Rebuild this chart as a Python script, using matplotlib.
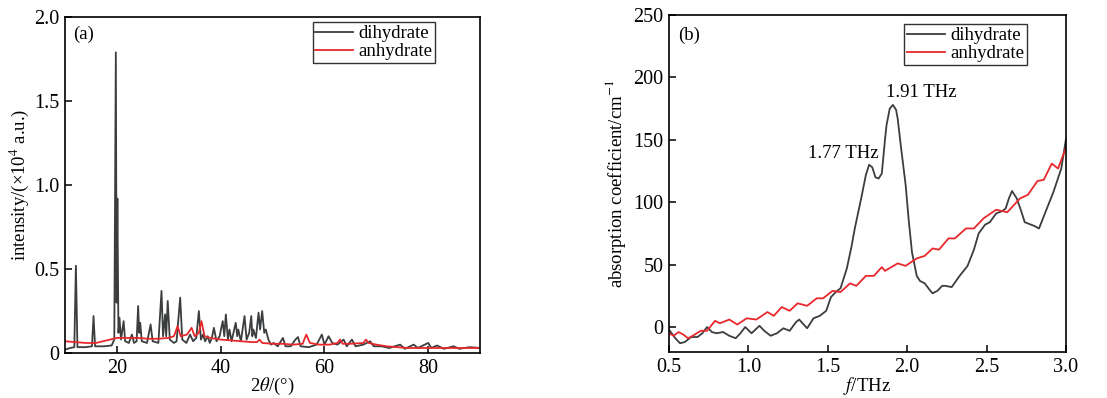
import matplotlib
matplotlib.use("Agg")
from matplotlib import pyplot as plt

plt.rcParams['font.family'] = ['Liberation Serif', 'DejaVu Serif']
plt.rcParams['mathtext.fontset'] = 'stix'

# (a) XRD, 2theta (deg) / intensity (x10^4 a.u.)
xrd_di_x = [10.0, 11.0, 11.8, 12.1, 12.4, 14.0, 15.2, 15.5, 15.8, 17.5, 19.0, 19.5,
            19.8, 19.95, 20.1, 20.3, 20.5, 20.8, 21.3, 21.6, 22.3, 22.9, 23.3, 23.8,
            24.1, 24.3, 24.5, 24.8, 25.8, 26.5, 26.9, 28.0, 28.6, 28.9, 29.3, 29.5,
            29.8, 30.2, 31.0, 31.5, 32.2, 32.6, 33.4, 34.1, 34.7, 35.3, 35.8, 36.2,
            36.6, 37.0, 37.5, 37.9, 38.3, 38.7, 39.2, 39.8, 40.4, 40.7, 41.0, 41.4,
            41.7, 42.1, 42.9, 43.2, 43.4, 43.9, 44.6, 45.0, 45.5, 45.9, 46.1, 46.3,
            46.8, 47.3, 47.6, 48.0, 48.4, 48.7, 49.2, 49.7, 50.2, 51.0, 52.0, 52.5,
            53.5, 54.4, 54.9, 55.4, 57.0, 58.5, 59.5, 60.0, 60.8, 61.5, 62.5, 63.7,
            64.3, 65.3, 66.0, 67.5, 68.8, 69.5, 71.0, 72.5, 74.6, 75.5, 77.2, 78.0,
            80.0, 80.6, 81.7, 83.0, 84.9, 86.0, 88.0, 90.0]
xrd_di_y = [0.02, 0.03, 0.035, 0.52, 0.035, 0.035, 0.04, 0.22, 0.04, 0.04, 0.045, 0.08,
            1.79, 0.30, 0.92, 0.12, 0.21, 0.08, 0.19, 0.07, 0.06, 0.11, 0.06, 0.07,
            0.28, 0.12, 0.18, 0.07, 0.06, 0.17, 0.07, 0.06, 0.37, 0.10, 0.23, 0.10,
            0.31, 0.08, 0.06, 0.07, 0.33, 0.08, 0.06, 0.11, 0.07, 0.09, 0.25, 0.08,
            0.11, 0.07, 0.10, 0.06, 0.09, 0.15, 0.07, 0.10, 0.19, 0.10, 0.23, 0.08,
            0.14, 0.07, 0.18, 0.10, 0.14, 0.07, 0.22, 0.08, 0.12, 0.22, 0.10, 0.14,
            0.09, 0.24, 0.14, 0.25, 0.12, 0.14, 0.08, 0.05, 0.06, 0.04, 0.09, 0.04,
            0.04, 0.08, 0.095, 0.04, 0.035, 0.05, 0.11, 0.05, 0.10, 0.06, 0.05, 0.08,
            0.04, 0.08, 0.04, 0.05, 0.07, 0.04, 0.04, 0.03, 0.05, 0.025, 0.05, 0.03,
            0.06, 0.03, 0.045, 0.025, 0.04, 0.025, 0.035, 0.03]

xrd_an_x = [10, 12, 14, 16, 18, 20, 22, 24, 26, 28, 30, 31.0, 31.7, 32.3, 33.5, 34.4,
            35.0, 35.8, 36.3, 36.9, 38, 40, 42, 44, 46, 47.0, 47.5, 48.0, 50, 52, 54,
            55.8, 56.5, 57.2, 59, 61, 62.5, 63.0, 63.5, 65, 67.5, 68.0, 68.5, 70, 72,
            74, 76, 78, 80, 84, 90]
xrd_an_y = [0.07, 0.065, 0.06, 0.06, 0.075, 0.09, 0.09, 0.09, 0.085, 0.085, 0.09, 0.10,
            0.16, 0.10, 0.11, 0.15, 0.10, 0.12, 0.19, 0.10, 0.09, 0.08, 0.075, 0.07,
            0.065, 0.065, 0.08, 0.06, 0.055, 0.055, 0.05, 0.055, 0.11, 0.06, 0.05,
            0.05, 0.06, 0.08, 0.055, 0.055, 0.06, 0.08, 0.06, 0.05, 0.04, 0.035, 0.03,
            0.03, 0.03, 0.03, 0.03]

# (b) THz absorption, f (THz) / coefficient (cm^-1)
thz_di_x = [0.50, 0.54, 0.57, 0.60, 0.64, 0.68, 0.71, 0.74, 0.77, 0.80, 0.84, 0.88,
            0.92, 0.95, 0.98, 1.02, 1.07, 1.10, 1.14, 1.18, 1.22, 1.26, 1.30, 1.32,
            1.37, 1.41, 1.45, 1.49, 1.52, 1.55, 1.58, 1.62, 1.65, 1.67, 1.71, 1.74,
            1.76, 1.78, 1.80, 1.82, 1.84, 1.86, 1.87, 1.89, 1.91, 1.93, 1.94, 1.96,
            1.99, 2.01, 2.03, 2.06, 2.08, 2.11, 2.14, 2.16, 2.19, 2.22, 2.24, 2.28,
            2.33, 2.38, 2.42, 2.45, 2.49, 2.52, 2.56, 2.60, 2.62, 2.64, 2.66, 2.69,
            2.72, 2.74, 2.78, 2.80, 2.83, 2.87, 2.92, 2.97, 3.00]
thz_di_y = [-2, -9, -13, -12, -8, -8, -5, 0, -4, -5, -4, -7,
            -9, -5, 0, -5, 1, -3, -7, -5, -1, -3, 4, 6,
            -1, 7, 9, 13, 24, 28, 31, 47, 65, 79, 103, 122,
            130, 128, 120, 119, 123, 150, 162, 175, 178, 174, 167, 145,
            114, 85, 60, 41, 37, 35, 30, 27, 29, 33, 33, 32,
            41, 49, 62, 75, 82, 84, 91, 93, 95, 103, 109, 103,
            92, 84, 82, 81, 79, 92, 108, 127, 151]

thz_an_x = [0.50, 0.53, 0.56, 0.59, 0.62, 0.65, 0.70, 0.74, 0.79, 0.82, 0.88, 0.93,
            0.99, 1.05, 1.12, 1.16, 1.21, 1.26, 1.31, 1.37, 1.43, 1.47, 1.53, 1.58,
            1.64, 1.68, 1.74, 1.79, 1.84, 1.86, 1.94, 1.99, 2.06, 2.11, 2.16, 2.20,
            2.26, 2.30, 2.37, 2.42, 2.48, 2.56, 2.63, 2.71, 2.76, 2.82, 2.86, 2.91,
            2.95, 3.00]
thz_an_y = [-5, -7, -4, -6, -9, -7, -3, -3, 5, 3, 6, 2,
            7, 6, 12, 9, 16, 13, 19, 17, 23, 23, 29, 28,
            35, 33, 41, 41, 48, 45, 51, 49, 55, 57, 63, 62,
            71, 71, 79, 79, 87, 94, 92, 103, 106, 117, 118, 131,
            127, 144]

dark = '#3b3d3f'
red = '#e8282c'

fig = plt.figure(figsize=(11.07, 3.98), dpi=100)
ax1 = fig.add_axes([0.0587, 0.113, 0.375, 0.844])
ax2 = fig.add_axes([0.6043, 0.1156, 0.3587, 0.8466])

ax1.plot(xrd_di_x, xrd_di_y, color=dark, lw=1.3, label='dihydrate')
ax1.plot(xrd_an_x, xrd_an_y, color=red, lw=1.3, label='anhydrate')
ax1.set_xlim(10, 90)
ax1.set_ylim(0, 2.0)
ax1.set_xticks([20, 40, 60, 80])
ax1.set_yticks([0, 0.5, 1.0, 1.5, 2.0])
ax1.set_yticklabels(['0', '0.5', '1.0', '1.5', '2.0'])
ax1.set_xlabel(r'2$\theta$/(°)', fontsize=13.5, labelpad=-1)
ax1.set_ylabel('intensity/(×10$^4$ a.u.)', fontsize=13.5, labelpad=2)
ax1.text(0.02, 0.975, '(a)', transform=ax1.transAxes, fontsize=13.5, va='top', ha='left')

ax2.plot(thz_di_x, thz_di_y, color=dark, lw=1.3, label='dihydrate')
ax2.plot(thz_an_x, thz_an_y, color=red, lw=1.3, label='anhydrate')
ax2.set_xlim(0.5, 3.0)
ax2.set_ylim(-20, 250)
ax2.set_xticks([0.5, 1.0, 1.5, 2.0, 2.5, 3.0])
ax2.set_yticks([0, 50, 100, 150, 200, 250])
ax2.set_xlabel(r'$f$/THz', fontsize=13.5, labelpad=-1)
ax2.set_ylabel('absorption coefficient/cm$^{-1}$', fontsize=13.5, labelpad=4)
ax2.text(0.023, 0.965, '(b)', transform=ax2.transAxes, fontsize=13.5, va='top', ha='left')
ax2.text(1.60, 139, '1.77 THz', fontsize=13.5, ha='center', va='center')
ax2.text(2.09, 188, '1.91 THz', fontsize=13.5, ha='center', va='center')

leg_anchor = {ax1: (0.892, 0.985), ax2: (0.902, 0.973)}
for ax in (ax1, ax2):
    ax.tick_params(direction='in', length=5, width=1.1, labelsize=14.5, pad=4,
                   top=False, right=False)
    for s in ax.spines.values():
        s.set_linewidth(1.2)
    leg = ax.legend(loc='upper right', bbox_to_anchor=leg_anchor[ax], fontsize=13.5,
                    frameon=True, fancybox=False, edgecolor='black', handlelength=2.0,
                    handletextpad=0.3, borderpad=0.15, labelspacing=0.05,
                    borderaxespad=0.0)
    leg.get_frame().set_linewidth(1.0)

fig.savefig('out.png', dpi=100)
